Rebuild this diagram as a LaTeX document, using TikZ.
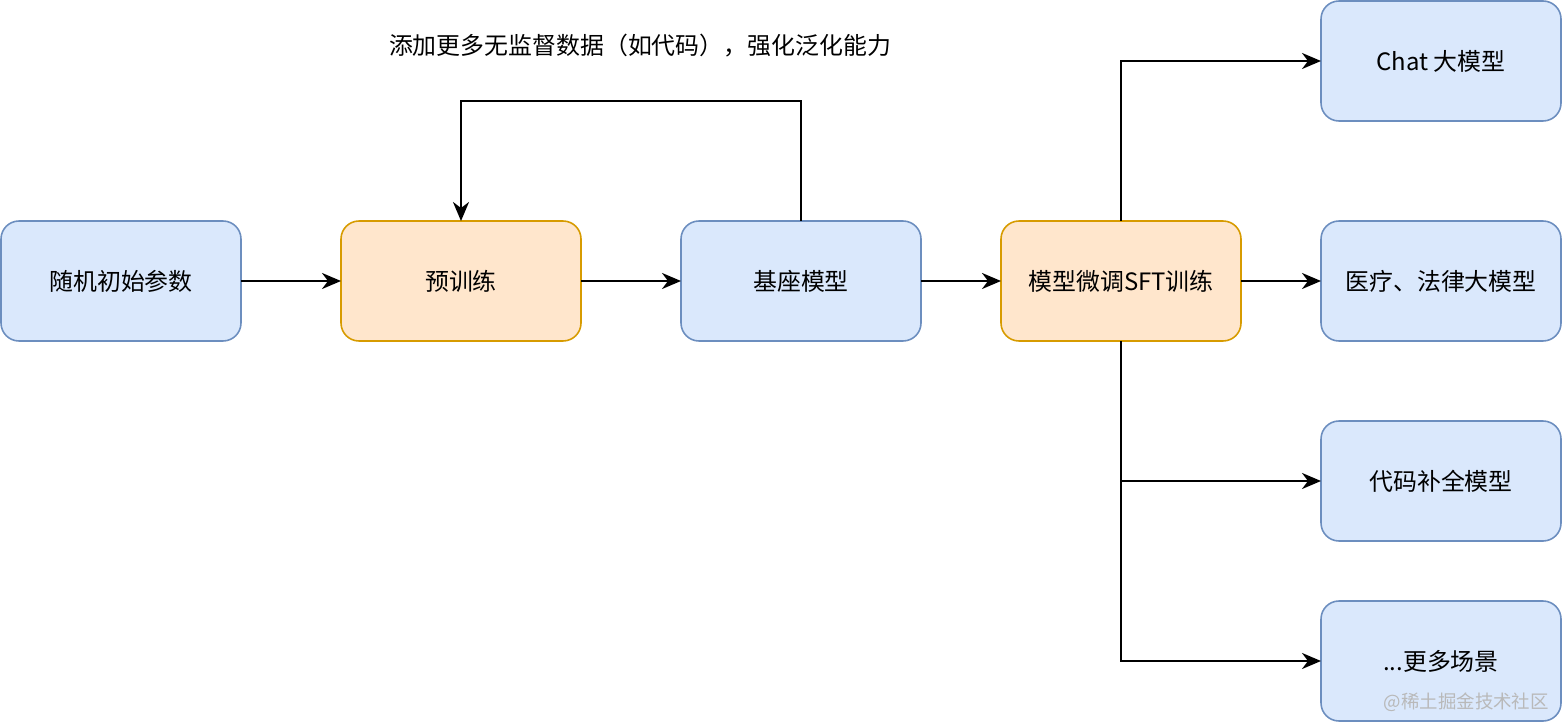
\documentclass[tikz,border=0pt]{standalone}
\usepackage{fontspec}
\setmainfont{Noto Sans CJK SC}
\usepackage{xcolor}
\usepackage{tikz}
\usetikzlibrary{arrows.meta,positioning,calc}

\definecolor{bluefill}{HTML}{DAE8FC}
\definecolor{blueline}{HTML}{6C8EBF}
\definecolor{orangefill}{HTML}{FFE6CC}
\definecolor{orangeline}{HTML}{D79B00}

\begin{document}
\begin{tikzpicture}[
  model/.style={draw=blueline, fill=bluefill, line width=0.9pt, rounded corners=0.36cm, minimum width=4.8cm, minimum height=2.4cm, align=center, font=\fontsize{13.6}{16}\selectfont, inner sep=0pt, outer sep=0pt},
  train/.style={model, draw=orangeline, fill=orangefill},
  arrow/.style={-{Stealth[length=3.8mm, width=3.2mm, inset=1.2mm]}, line width=1.4pt},
]
\useasboundingbox (0,0) rectangle (31.24,-14.44);

% main pipeline
\node[model] (init) at (2.42,-5.62) {随机初始参数};
\node[train, right=2cm of init] (pre) {预训练};
\node[model, right=2cm of pre] (base) {基座模型};
\node[train, right=1.6cm of base] (sft) {模型微调SFT训练};

% downstream models
\node[model, right=1.6cm of sft] (med) {医疗、法律大模型};
\node[model, above=2cm of med] (chat) {Chat 大模型};
\node[model, below=1.6cm of med] (code) {代码补全模型};
\node[model, below=1.2cm of code] (more) {...更多场景};

\draw[arrow] (init) -- (pre);
\draw[arrow] (pre) -- (base);
\draw[arrow] (base) -- (sft);
\draw[arrow] (sft) -- (med);

% feedback loop
\coordinate (loopR) at ($(base.north)+(0,2.4)$);
\coordinate (loopL) at ($(pre.north)+(0,2.4)$);
\draw[arrow] (base.north) -- (loopR) -- (loopL) -- (pre.north);
\node[font=\fontsize{13.6}{16}\selectfont] (loopnote) at (12.8,-0.92) {添加更多无监督数据（如代码），强化泛化能力};

% branches
\draw[arrow] (sft.north) |- (chat.west);
\draw[arrow] (sft.south) |- (more.west);
\draw[arrow] (sft.south |- code.west) -- (code.west);

\node[text=gray!55, font=\fontsize{10.5}{12}\selectfont, anchor=east] (mark) at (31.1,-14.04) {@稀土掘金技术社区};

\end{tikzpicture}
\end{document}
